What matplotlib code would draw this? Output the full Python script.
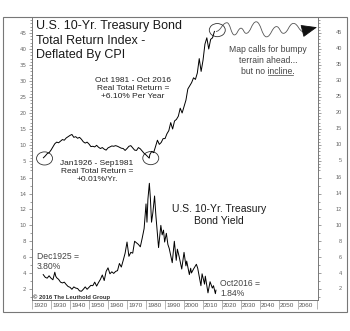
import matplotlib
matplotlib.use('Agg')
import matplotlib.pyplot as plt
from matplotlib.patches import Ellipse, Rectangle, PathPatch
from matplotlib.path import Path
from matplotlib.lines import Line2D
from matplotlib.transforms import blended_transform_factory

# real total return index (deflated by CPI)
tr_years = list(range(1926, 1981)) + [1981.7] + list(range(1982, 2017))
tr_vals = [6.0, 6.6, 7.3, 7.6, 8.4, 9.4, 10.4, 10.9, 10.7, 11.2,
           11.7, 11.5, 12.2, 12.6, 13.0, 13.3, 12.4, 12.6, 12.1, 12.4,
           11.8, 11.0, 10.6, 10.9, 10.3, 9.5, 9.6, 9.4, 9.9, 9.3,
           8.9, 9.2, 8.7, 8.4, 9.1, 9.4, 9.7, 9.6, 9.8, 9.6,
           9.3, 9.0, 8.9, 8.3, 8.9, 9.6, 9.8, 9.1, 8.4, 8.3,
           9.2, 8.8, 8.1, 7.4, 6.9,
           5.9,
           7.0, 8.0, 7.6, 9.5, 11.5, 10.2, 10.8, 12.0, 12.0, 13.5,
           14.5, 17.0, 15.0, 17.5, 18.0, 19.0, 21.5, 20.0, 22.0, 24.0,
           27.5, 28.5, 29.5, 31.0, 30.5, 32.5, 37.0, 33.0, 36.5, 41.5,
           43.5, 40.0, 43.0, 43.5, 45.5]

# "bumpy terrain" projection (turning points), last one is the arrow tip
wave_x = [2016.8, 2022.6, 2026.5, 2030.0, 2032.7, 2038.0, 2043.4, 2048.7,
          2052.3, 2057.6, 2062.9, 2066.0, 2070.0]
wave_y = [45.5, 48.2, 44.4, 46.5, 44.9, 48.5, 43.8, 47.0,
          44.9, 48.0, 45.4, 46.2, 46.8]

# 10-yr treasury yield
yld_years = [1925.9, 1927, 1928, 1929, 1930, 1931, 1932, 1932.5, 1933, 1934,
             1935, 1936, 1937, 1938, 1939, 1940, 1941, 1942, 1943, 1944,
             1945, 1946, 1947, 1948, 1949, 1950, 1951, 1952, 1953, 1954,
             1955, 1956, 1957, 1958, 1959, 1960, 1961, 1962, 1963, 1964,
             1965, 1966, 1967, 1968, 1969, 1970, 1971, 1972, 1973, 1974,
             1975, 1976, 1977, 1978, 1979, 1980, 1980.5, 1981, 1981.75, 1982.3,
             1982.9, 1983.6, 1984.5, 1985.2, 1986.6, 1987.8, 1988.5, 1989.2, 1989.8, 1990.7,
             1991.5, 1992.2, 1993.8, 1994.9, 1995.9, 1996.5, 1997.4, 1998.8, 2000.0, 2001.0,
             2001.4, 2002.8, 2003.5, 2003.9, 2005.0, 2006.5, 2007.2, 2008.9, 2009.5, 2010.8,
             2011.2, 2012.6, 2013.7, 2014.9, 2015.5, 2016.5, 2016.8]
yld_vals = [3.80, 3.45, 3.35, 3.65, 3.35, 3.15, 4.1, 3.6, 3.4, 3.2,
            2.85, 2.75, 2.85, 2.55, 2.3, 2.2, 1.95, 2.25, 2.1, 2.05,
            1.75, 1.7, 1.95, 2.25, 1.95, 2.2, 2.45, 2.4, 2.85, 2.35,
            2.8, 3.2, 3.75, 3.05, 4.2, 4.65, 3.9, 4.15, 3.95, 4.2,
            4.3, 5.2, 4.75, 5.6, 6.5, 7.9, 6.1, 6.6, 6.5, 8.0,
            7.8, 7.6, 7.3, 8.4, 9.6, 12.7, 10.4, 13.3, 15.3, 13.4,
            10.4, 11.6, 13.7, 11.2, 7.2, 10.0, 8.8, 9.4, 7.9, 9.0,
            7.6, 7.1, 5.3, 8.0, 5.6, 7.0, 6.1, 4.5, 6.6, 4.9,
            5.5, 3.8, 4.6, 4.0, 4.5, 5.1, 4.6, 2.4, 3.9, 2.6,
            3.6, 1.5, 2.9, 2.1, 2.4, 1.4, 1.84]

top_ticks = [5, 10, 15, 20, 25, 30, 35, 40, 45]
bot_ticks = [2, 4, 6, 8, 10, 12, 14, 16]
decades = [1920, 1930, 1940, 1950, 1960, 1970, 1980, 1990, 2000, 2010, 2020, 2030, 2040, 2050, 2060, 2070]
decade_labels = [str(d) for d in decades[:-1]]

W, H = 350, 331
def fx(px):
    return px / W
def fy(py):
    return 1 - py / H

SANS = ['Liberation Sans', 'DejaVu Sans']
GRAY = '#777777'

fig = plt.figure(figsize=(3.5, 3.31), dpi=100)
ax_top = fig.add_axes([fx(32), fy(169), fx(318) - fx(32), fy(17) - fy(169)])
ax_bot = fig.add_axes([fx(32), fy(300), fx(318) - fx(32), fy(169) - fy(300)])

for ax, ticks, ylim in ((ax_top, top_ticks, (2.5, 50)), (ax_bot, bot_ticks, (0.6, 17.1))):
    ax.set_xlim(1920, 2070.5)
    ax.set_ylim(*ylim)
    ax.patch.set_alpha(0)
    ax.spines['top'].set_visible(False)
    ax.spines['bottom'].set_visible(False)
    for s in ('left', 'right'):
        ax.spines[s].set_color(GRAY)
        ax.spines[s].set_linewidth(0.7)
    ax.set_yticks(ticks)
    ax.yaxis.set_minor_locator(matplotlib.ticker.MultipleLocator(1))
    ax.tick_params(axis='y', which='both', left=True, right=True, labelleft=True,
                   labelright=False, direction='out', color=GRAY, width=0.5)
    ax.tick_params(axis='y', which='major', length=2.5, pad=1.5, labelsize=4, labelcolor='#666666')
    ax.tick_params(axis='y', which='minor', length=1.3)
    ax.tick_params(axis='x', which='both', bottom=False, top=False, labelbottom=False)
    trans = blended_transform_factory(ax.transAxes, ax.transData)
    for v in ticks:
        ax.text(1.083, v, str(v), transform=trans, ha='right', va='center',
                fontsize=4, color='#666666', family=SANS)

# x axis label strip
ax_bot.spines['bottom'].set_visible(True)
ax_bot.spines['bottom'].set_color(GRAY)
ax_bot.spines['bottom'].set_linewidth(0.7)
ax_bot.set_xticks(decades)
ax_bot.tick_params(axis='x', which='major', bottom=True, direction='out', length=6.5,
                   width=0.5, color='#999999', labelbottom=False)
xtrans = blended_transform_factory(ax_bot.transData, ax_bot.transAxes)
for d, lab in zip(decades, decade_labels):
    ax_bot.text(d + 0.6, -0.04, lab, transform=xtrans, ha='left', va='center',
                fontsize=4.6, color='#555555', family=SANS)

# series
ax_top.plot(tr_years, tr_vals, color='black', lw=0.7)
ax_bot.plot(yld_years, yld_vals, color='black', lw=0.7)

# projected wave drawn as smooth curve through turning points
verts = [(wave_x[0], wave_y[0])]
codes = [Path.MOVETO]
for i in range(1, len(wave_x) - 1):
    x0, y0 = wave_x[i - 1], wave_y[i - 1]
    x1, y1 = wave_x[i], wave_y[i]
    dx = x1 - x0
    verts += [(x0 + dx * 0.45, y0), (x1 - dx * 0.45, y1), (x1, y1)]
    codes += [Path.CURVE4] * 3
ax_top.add_patch(PathPatch(Path(verts, codes), fill=False, ec='#555555', lw=0.6, clip_on=False))
ax_top.annotate('', xy=(wave_x[-1], wave_y[-1]), xytext=(wave_x[-2], wave_y[-2]),
                arrowprops=dict(arrowstyle='-|>,head_length=1.0,head_width=0.4',
                                color='#111111', lw=0.6, shrinkA=0, shrinkB=0),
                annotation_clip=False)

# circles
imin = tr_vals.index(min(tr_vals))
for xc, yc in ((tr_years[0] + 0.6, tr_vals[0] - 0.2), (tr_years[imin] + 0.8, tr_vals[imin]),
               (tr_years[-1] + 1.5, tr_vals[-1] + 0.4)):
    ax_top.add_patch(Ellipse((xc, yc), 8.4, 4.1, fill=False, ec='#333333', lw=0.6, clip_on=False))

# outer frame
fig.add_artist(Rectangle((fx(3), fy(312)), fx(347) - fx(3), fy(17) - fy(312),
                         transform=fig.transFigure, fill=False, ec=GRAY, lw=0.8))

# texts
fig.text(fx(36), fy(20), "U.S. 10-Yr. Treasury Bond\nTotal Return Index -\nDeflated By CPI",
         ha='left', va='top', fontsize=9, family=SANS, linespacing=1.3, color='#1a1a1a')
fig.text(fx(133), fy(77), "Oct 1981 - Oct 2016\nReal Total Return =\n+6.10% Per Year",
         ha='center', va='top', fontsize=6, family=SANS, linespacing=1.2, color='#222222')
fig.text(fx(97), fy(160), "Jan1926 - Sep1981\nReal Total Return =\n+0.01%/Yr.",
         ha='center', va='top', fontsize=6, family=SANS, linespacing=1.2, color='#222222')
fig.text(fx(219), fy(204), "U.S. 10-Yr. Treasury\nBond Yield",
         ha='center', va='top', fontsize=7.5, family=SANS, linespacing=1.25, color='#1a1a1a')
fig.text(fx(37), fy(252), "Dec1925 =\n3.80%", ha='left', va='top', fontsize=6.2,
         family=SANS, linespacing=1.2, color='#444444')
fig.text(fx(220), fy(279), "Oct2016 =\n1.84%", ha='left', va='top', fontsize=6.2,
         family=SANS, linespacing=1.2, color='#444444')
fig.text(fx(33), fy(297), "\u00a9 2016 The Leuthold Group", ha='left', va='center',
         fontsize=4.2, weight='bold', family=SANS, color='#333333')

kw = dict(fontsize=6.2, family=SANS, color='#444444')
fig.text(fx(268), fy(45), "Map calls for bumpy\nterrain ahead...", ha='center', va='top',
         linespacing=1.25, **kw)
t3 = fig.text(fx(268), fy(67), "but no incline.", ha='center', va='top', **kw)

# underline "incline"
renderer = fig.canvas.get_renderer()
bb = t3.get_window_extent(renderer)
tmp_a = fig.text(0, 0, "but no incline", **kw)
tmp_b = fig.text(0, 0, "incline", **kw)
wa = tmp_a.get_window_extent(renderer).width
wb = tmp_b.get_window_extent(renderer).width
tmp_a.remove()
tmp_b.remove()
ux0 = bb.x0 + wa - wb
ux1 = bb.x0 + wa
uy = bb.y0 + 1.5
fig.add_artist(Line2D([ux0 / W, ux1 / W], [uy / H, uy / H], transform=fig.transFigure,
                      color='#444444', lw=0.5))

fig.savefig('out.png', dpi=100)
